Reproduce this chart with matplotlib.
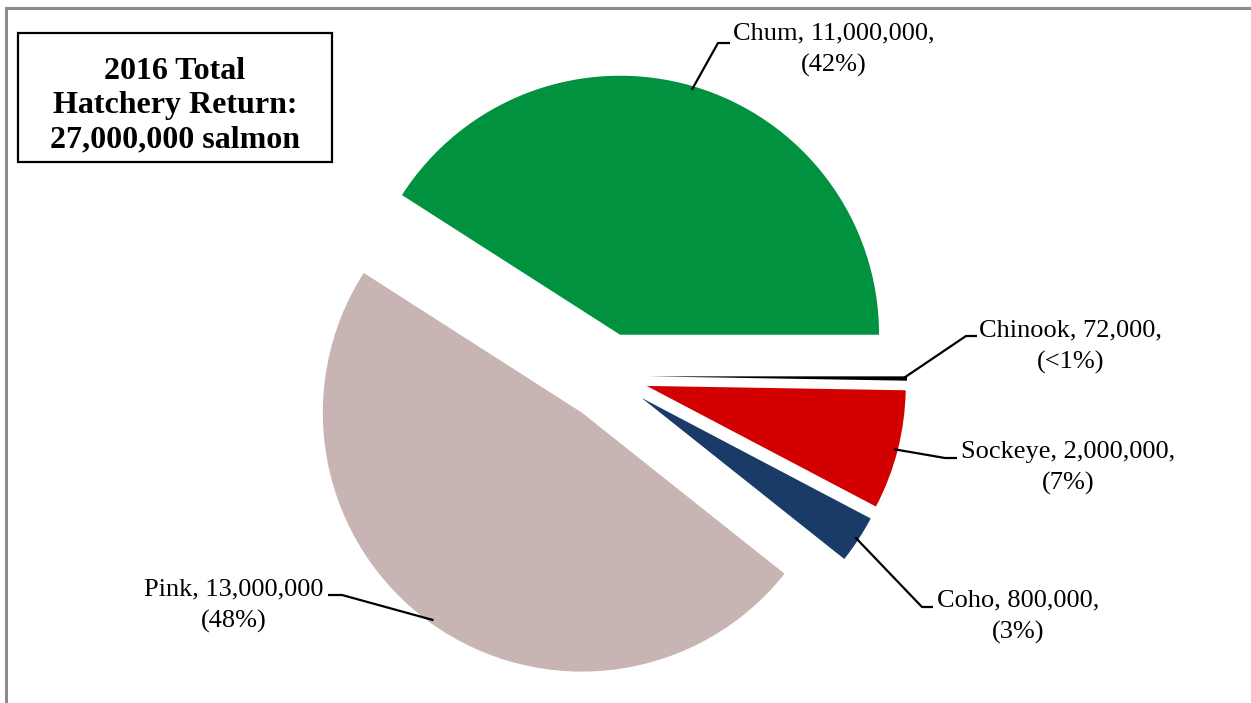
import numpy as np
import matplotlib
matplotlib.use('Agg')
import matplotlib.pyplot as plt
from matplotlib.patches import Rectangle

# 2016 hatchery returns by species
species = ['Chum', 'Pink', 'Coho', 'Sockeye', 'Chinook']
returns = [11000000, 13000000, 800000, 2000000, 72000]
pct_labels = ['42%', '48%', '3%', '7%', '<1%']
colors = ['#00923F', '#C9B4B4', '#1A3A68', '#D20000', '#000000']
title_lines = ['2016 Total', 'Hatchery Return:', '27,000,000 salmon']

W, H = 1251, 703
SERIF = 'Liberation Serif'


def img(x, y):
    # pixel position measured from the top-left corner
    return x, H - y


fig = plt.figure(figsize=(W / 100, H / 100), dpi=100)
ax = fig.add_axes([0, 0, 1, 1])

wedges, _ = ax.pie(returns, colors=colors, startangle=0, counterclock=True,
                   explode=[43, 45, 40, 40, 40], radius=259,
                   center=img(608, 376), frame=True,
                   wedgeprops=dict(linewidth=0))
ax.set_xlim(0, W)
ax.set_ylim(0, H)
ax.set_aspect('equal')
ax.axis('off')

# chart border (only top and left fall inside the image)
ax.add_patch(Rectangle(img(6, H + 20), W + 20, H + 12, fill=False,
                       edgecolor='#8C8C8C', linewidth=2.2, clip_on=False))

# label layout: (knee, line end, anchor of last text line, ha)
layout = {
    'Chum': ((718, 43), (730, 43), (733, 72), 'left'),
    'Pink': ((342, 595), (328, 595), (323, 628), 'right'),
    'Coho': ((922, 607), (933, 607), (937, 639), 'left'),
    'Sockeye': ((945, 458), (957, 458), (961, 490), 'left'),
    'Chinook': ((966, 336), (977, 336), (979, 369), 'left'),
}

for w, name, val, pct in zip(wedges, species, returns, pct_labels):
    mid = np.deg2rad((w.theta1 + w.theta2) / 2)
    cx, cy = w.center
    px = cx + 0.985 * w.r * np.cos(mid)
    py = cy + 0.985 * w.r * np.sin(mid)
    knee, end, anchor, ha = layout[name]
    xs = [px, img(*knee)[0], img(*end)[0]]
    ys = [py, img(*knee)[1], img(*end)[1]]
    ax.plot(xs, ys, color='black', linewidth=1.6, solid_capstyle='butt')
    sep = ',' if name != 'Pink' else ''
    txt = f'{name}, {val:,}{sep}\n({pct})'
    ax.text(*img(*anchor), txt, ha=ha, va='baseline', ma='center',
            fontsize=19, family=SERIF, linespacing=1.55)

# title box
ax.add_patch(Rectangle(img(18, 162), 314, 129, fill=False,
                       edgecolor='black', linewidth=1.6))
ax.text(*img(175, 147), '\n'.join(title_lines), ha='center', va='baseline',
        ma='center', fontsize=23, family=SERIF, fontweight='bold',
        linespacing=1.22)

fig.savefig('out.png', dpi=100)
